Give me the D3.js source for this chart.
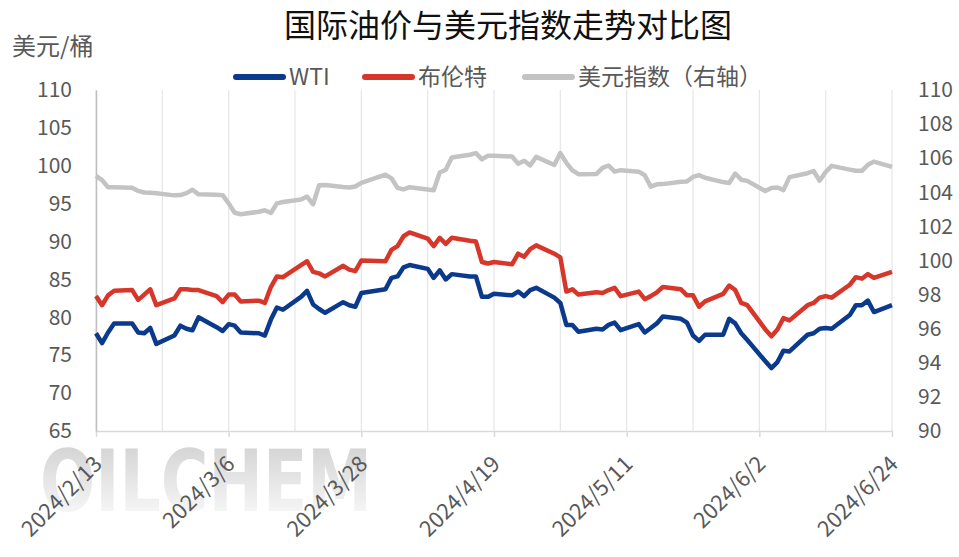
<!DOCTYPE html>
<html><head><meta charset="utf-8">
<script src="https://cdn.jsdelivr.net/npm/d3@7"></script>
<style>body{margin:0;background:#fff}svg{display:block}</style>
</head><body>
<svg id="c" width="959" height="557"></svg>
<script>
const dates = [
"2024-02-13","2024-02-14","2024-02-15","2024-02-16","2024-02-19","2024-02-20","2024-02-21","2024-02-22","2024-02-23",
"2024-02-26","2024-02-27","2024-02-28","2024-02-29","2024-03-01",
"2024-03-04","2024-03-05","2024-03-06","2024-03-07","2024-03-08",
"2024-03-11","2024-03-12","2024-03-13","2024-03-14","2024-03-15",
"2024-03-18","2024-03-19","2024-03-20","2024-03-21","2024-03-22",
"2024-03-25","2024-03-26","2024-03-27","2024-03-28",
"2024-04-01","2024-04-02","2024-04-03","2024-04-04","2024-04-05",
"2024-04-08","2024-04-09","2024-04-10","2024-04-11","2024-04-12",
"2024-04-15","2024-04-16","2024-04-17","2024-04-18","2024-04-19",
"2024-04-22","2024-04-23","2024-04-24","2024-04-25","2024-04-26",
"2024-04-29","2024-04-30","2024-05-01","2024-05-02","2024-05-03",
"2024-05-06","2024-05-07","2024-05-08","2024-05-09","2024-05-10",
"2024-05-13","2024-05-14","2024-05-15","2024-05-16","2024-05-17",
"2024-05-20","2024-05-21","2024-05-22","2024-05-23","2024-05-24",
"2024-05-27","2024-05-28","2024-05-29","2024-05-30","2024-05-31",
"2024-06-03","2024-06-04","2024-06-05","2024-06-06","2024-06-07",
"2024-06-10","2024-06-11","2024-06-12","2024-06-13","2024-06-14",
"2024-06-17","2024-06-18","2024-06-19","2024-06-20","2024-06-21",
"2024-06-24"];

const wti = [
77.9,76.6,78.0,79.2,79.2,78.0,77.9,78.6,76.5,
77.6,78.9,78.5,78.3,80.0,
78.7,78.2,79.1,78.9,78.0,
77.9,77.6,79.7,81.3,81.0,
82.7,83.5,81.7,81.1,80.6,
82.0,81.6,81.4,83.2,
83.7,85.2,85.4,86.6,86.9,
86.4,85.2,86.2,85.0,85.7,
85.4,85.4,82.7,82.7,83.1,
82.9,83.4,82.8,83.6,83.9,
82.6,81.9,79.0,79.0,78.1,
78.5,78.4,79.0,79.3,78.3,
79.1,78.0,78.6,79.2,80.1,
79.8,79.3,77.6,76.9,77.7,
77.7,79.8,79.2,77.9,77.0,
74.2,73.3,74.1,75.6,75.5,
77.7,77.9,78.5,78.6,78.5,
80.3,81.6,81.6,82.2,80.7,
81.6];

const brent = [
82.8,81.6,82.9,83.5,83.6,82.3,83.0,83.7,81.6,
82.5,83.7,83.7,83.6,83.6,
82.8,82.0,83.0,83.0,82.1,
82.2,81.9,84.0,85.4,85.3,
86.9,87.4,86.0,85.8,85.4,
86.8,86.3,86.1,87.5,
87.4,88.9,89.4,90.7,91.2,
90.4,89.4,90.5,89.7,90.5,
90.1,90.0,87.3,87.1,87.3,
87.0,88.4,88.0,89.0,89.5,
88.4,87.9,83.4,83.7,83.0,
83.3,83.2,83.6,83.9,82.8,
83.4,82.4,82.8,83.3,84.0,
83.7,82.9,82.9,81.4,82.1,
83.1,84.2,83.6,81.9,81.6,
78.4,77.5,78.4,79.9,79.6,
81.6,81.9,82.6,82.8,82.6,
84.3,85.3,85.1,85.7,85.2,
86.0];

const usdx = [
104.96,104.72,104.29,104.30,104.27,104.08,103.99,103.97,103.94,
103.82,103.84,103.95,104.15,103.88,
103.85,103.83,103.35,102.80,102.71,
102.86,102.95,102.79,103.35,103.43,
103.58,103.75,103.30,104.42,104.43,
104.31,104.28,104.34,104.55,
105.03,104.82,104.26,104.17,104.30,
104.16,104.12,105.16,105.32,106.04,
106.20,106.30,105.93,106.15,106.15,
106.10,105.68,105.85,105.58,106.08,
105.60,106.30,105.73,105.29,105.06,
105.08,105.43,105.57,105.21,105.30,
105.21,105.00,104.33,104.47,104.48,
104.62,104.64,104.90,105.01,104.85,
104.60,104.55,105.10,104.74,104.67,
104.07,104.25,104.28,104.13,104.89,
105.12,105.25,104.68,105.19,105.55,
105.33,105.26,105.26,105.61,105.80,
105.49];

const leftTicks = [65,70,75,80,85,90,95,100,105,110];
const rightTicks = [90,92,94,96,98,100,102,104,106,108,110];
const xTickLabels = ["2024-02-13","2024-03-06","2024-03-28","2024-04-19","2024-05-11","2024-06-02","2024-06-24"];
const seriesNames = ["WTI","布伦特","美元指数（右轴）"];
const seriesColors = ["#0b3a8c","#d7372a","#c3c3c3"];

const FONT = "'Noto Sans CJK SC','Noto Sans',sans-serif";
const TXT = "#595959";
const parse = d3.utcParse("%Y-%m-%d");
const fmt = d3.utcFormat("%Y/%-m/%-d");
const D = dates.map(parse);

const svg = d3.select("#c");
const x = d3.scaleUtc().domain([parse("2024-02-13"), parse("2024-06-24")]).range([96, 892]);
const yL = d3.scaleLinear().domain([65,110]).range([431,90]);
const yR = d3.scaleLinear().domain([90,110]).range([431,90]);

// watermark
const defs = svg.append("defs");
const g = defs.append("linearGradient").attr("id","wm").attr("x1",0).attr("y1",0).attr("x2",0).attr("y2",1);
g.append("stop").attr("offset","0%").attr("stop-color","#cdcdcd");
g.append("stop").attr("offset","100%").attr("stop-color","#ffffff");
svg.append("text").attr("x",40).attr("y",511).attr("textLength",332).attr("lengthAdjust","spacingAndGlyphs")
  .attr("font-family","'DejaVu Sans',sans-serif").attr("font-weight","bold").attr("font-size",86)
  .attr("fill","url(#wm)").text("OILCHEM");

// vertical gridlines every 11 days
const grid = d3.range(0,13).map(i => d3.utcDay.offset(parse("2024-02-13"), 11*i));
svg.append("g").selectAll("line").data(grid).join("line")
  .attr("x1",d=>x(d)).attr("x2",d=>x(d)).attr("y1",yL(110)).attr("y2",yL(65))
  .attr("stroke","#e6e6e6").attr("stroke-width",1.2);

// bottom axis
const xa = svg.append("g").attr("transform","translate(0,431)")
  .call(d3.axisBottom(x).tickValues(xTickLabels.map(parse)).tickSize(6).tickSizeOuter(0).tickFormat(""));
xa.select(".domain").attr("stroke","#d9d9d9").attr("stroke-width",1.5);
xa.selectAll(".tick line").attr("stroke","#d9d9d9").attr("stroke-width",1.5);
svg.append("g").selectAll("text").data(xTickLabels.map(parse)).join("text")
  .attr("transform",d=>`translate(${x(d)+2},460) rotate(-45)`)
  .attr("text-anchor","end").attr("dy","0.35em")
  .attr("font-family",FONT).attr("font-size",22).attr("fill",TXT).text(d=>fmt(d));

// left axis
const la = svg.append("g").attr("transform","translate(96,0)")
  .call(d3.axisLeft(yL).tickValues(leftTicks).tickSize(0).tickSizeOuter(0).tickPadding(24));
la.select(".domain").attr("stroke","#bfbfbf").attr("stroke-width",1.5);
la.selectAll("text").attr("font-family",FONT).attr("font-size",21).attr("fill",TXT);

// right axis
const ra = svg.append("g").attr("transform","translate(892,0)")
  .call(d3.axisRight(yR).tickValues(rightTicks).tickSize(0).tickPadding(26));
ra.select(".domain").remove();
ra.selectAll("text").attr("font-family",FONT).attr("font-size",21).attr("fill",TXT);

// lines
const lineL = d3.line().x((d,i)=>x(D[i])).y(d=>yL(d));
const lineR = d3.line().x((d,i)=>x(D[i])).y(d=>yR(d));
svg.append("path").datum(usdx).attr("d",lineR).attr("fill","none").attr("stroke",seriesColors[2]).attr("stroke-width",4.5).attr("stroke-linejoin","round");
svg.append("path").datum(brent).attr("d",lineL).attr("fill","none").attr("stroke",seriesColors[1]).attr("stroke-width",4.5).attr("stroke-linejoin","round");
svg.append("path").datum(wti).attr("d",lineL).attr("fill","none").attr("stroke",seriesColors[0]).attr("stroke-width",4.5).attr("stroke-linejoin","round");

// title
svg.append("text").attr("x",508).attr("y",37).attr("text-anchor","middle")
  .attr("font-family",FONT).attr("font-size",32).attr("fill","#111").text("国际油价与美元指数走势对比图");
svg.append("text").attr("x",12).attr("y",55)
  .attr("font-family",FONT).attr("font-size",24).attr("fill",TXT).text("美元/桶");

// legend
const legX = [233, 362, 522];
const leg = svg.append("g");
seriesNames.forEach((n,i)=>{
  leg.append("line").attr("x1",legX[i]+3).attr("x2",legX[i]+50).attr("y1",77).attr("y2",77)
    .attr("stroke",seriesColors[i]).attr("stroke-width",6).attr("stroke-linecap","round");
  leg.append("text").attr("x",legX[i]+56).attr("y",77).attr("dy","0.35em")
    .attr("font-family",FONT).attr("font-size",23).attr("fill",TXT).text(n);
});
</script>
</body></html>
